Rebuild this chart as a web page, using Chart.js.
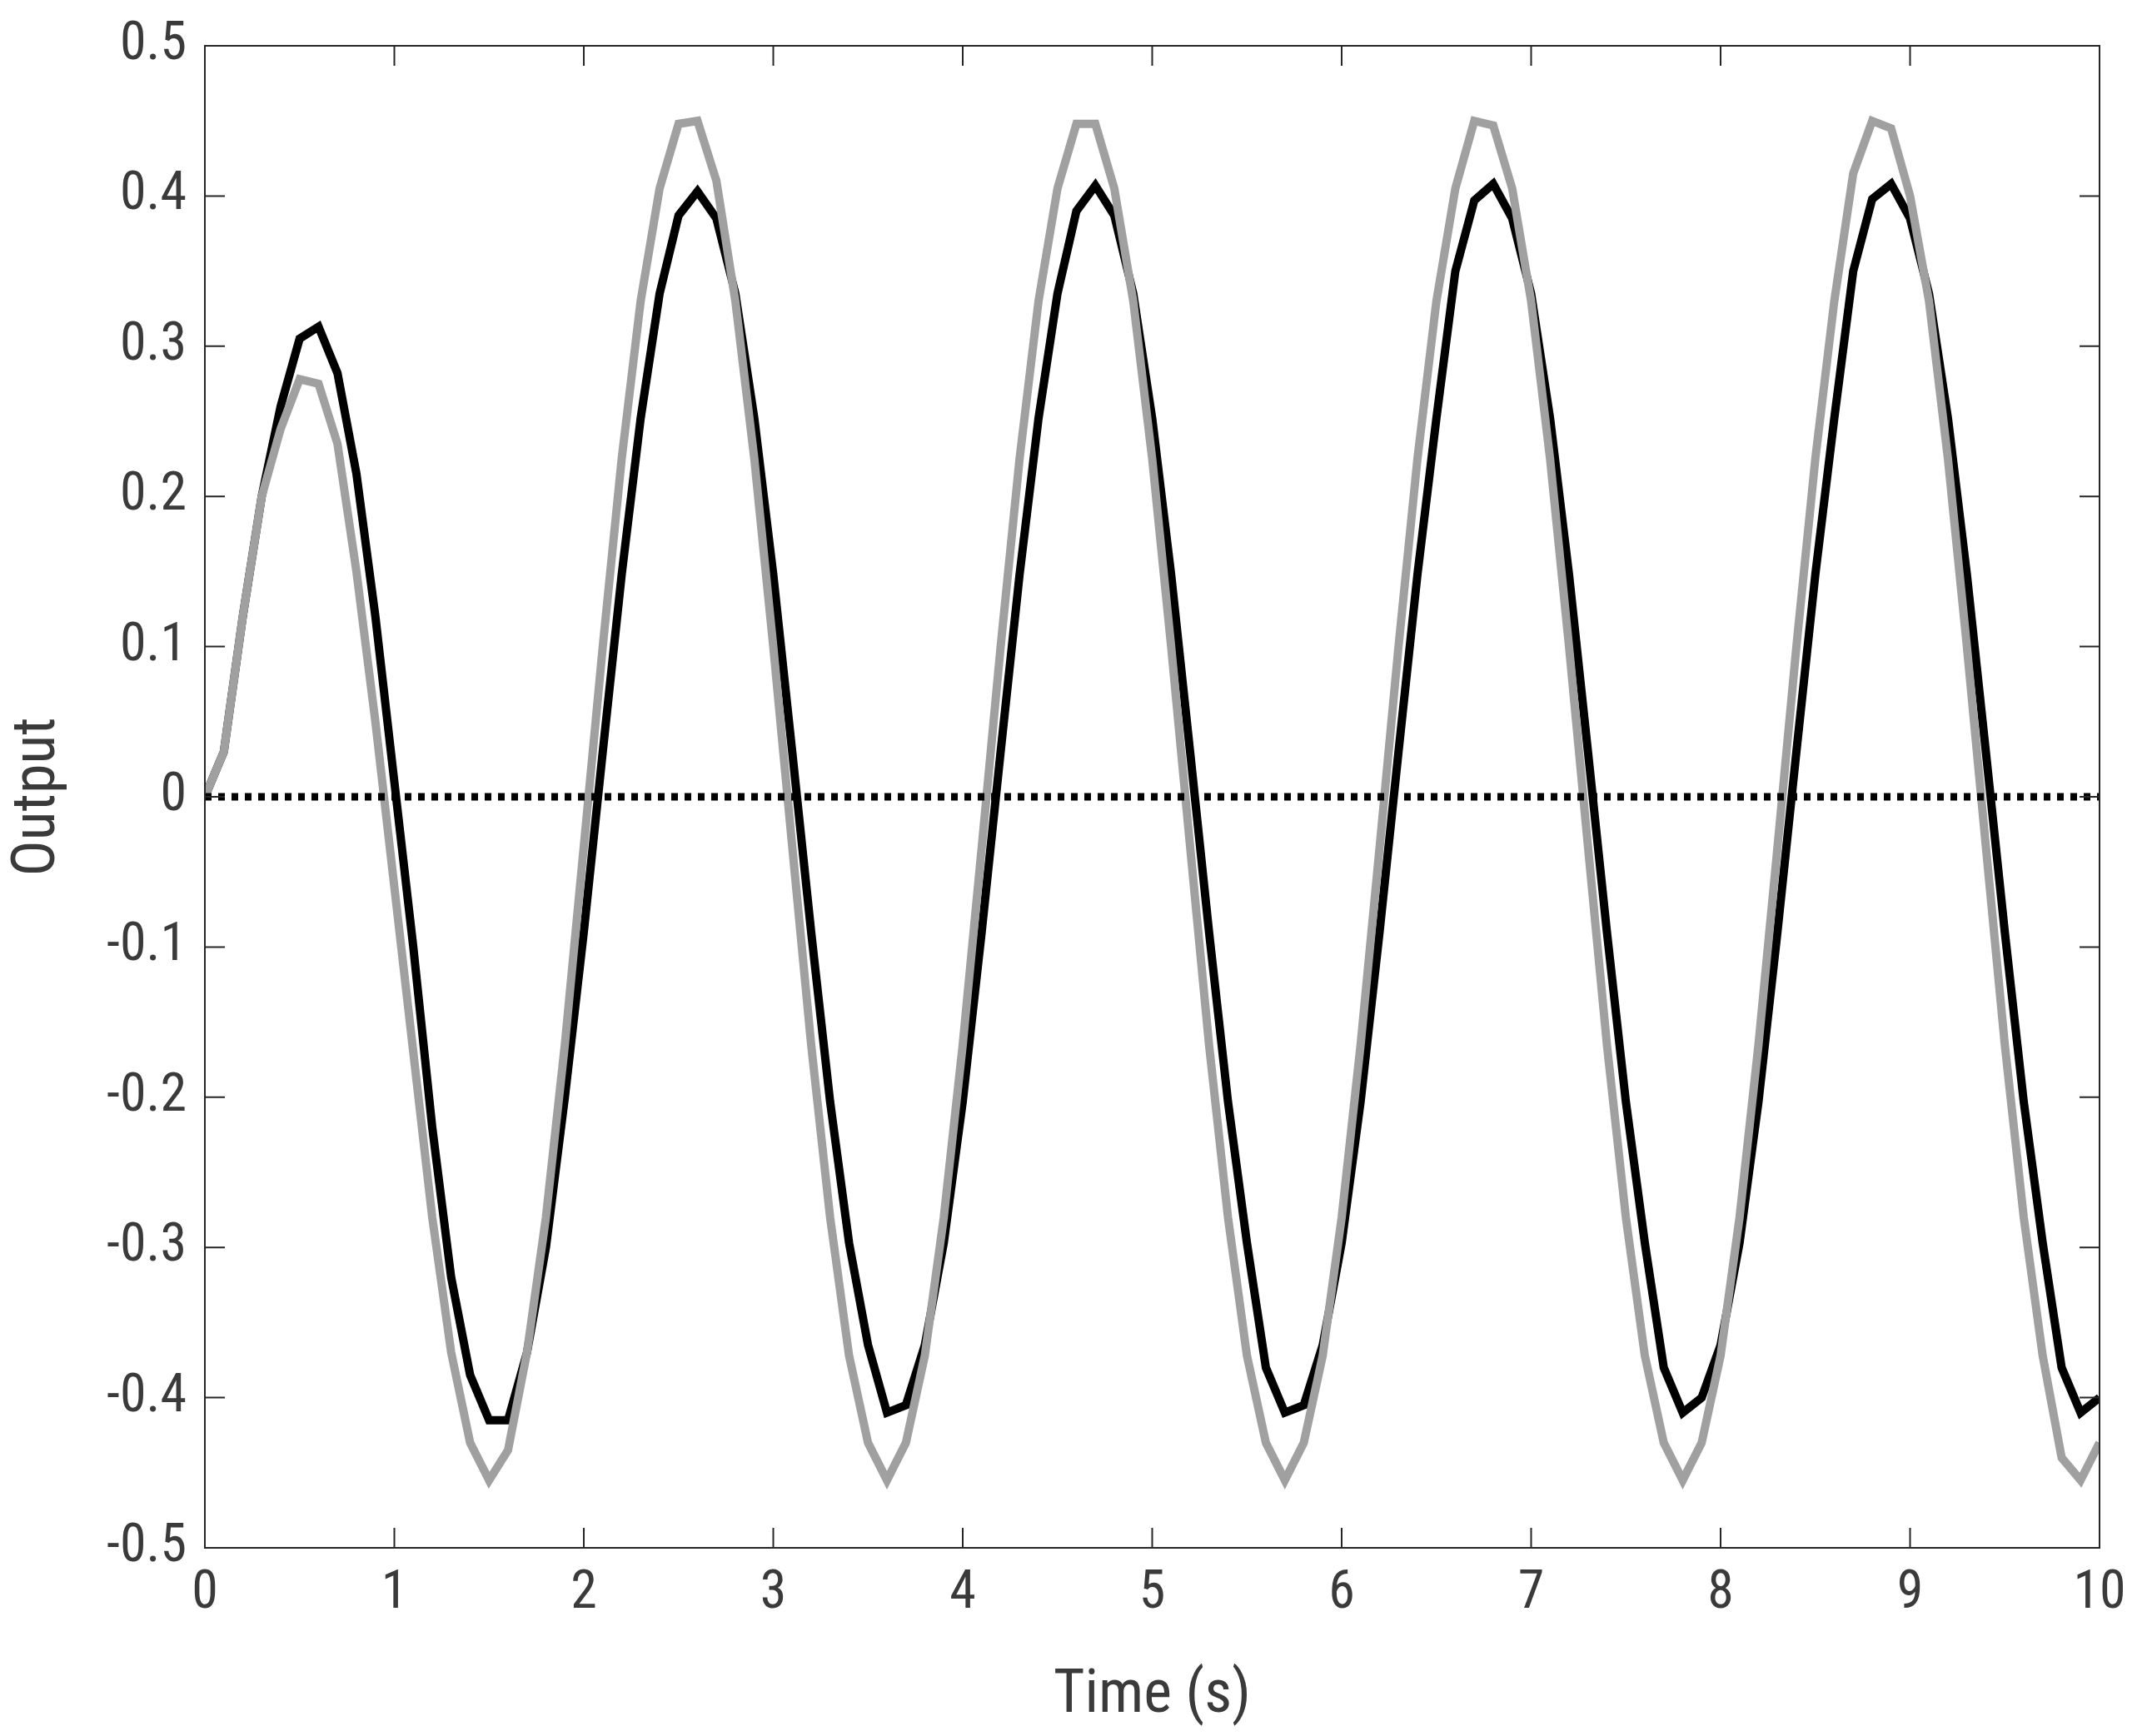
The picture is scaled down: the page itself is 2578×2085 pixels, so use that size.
<!DOCTYPE html>
<html><head><meta charset="utf-8">
<script src="https://cdn.jsdelivr.net/npm/chart.js@4"></script>
<style>html,body{margin:0;padding:0;background:#fff}canvas{display:block}</style>
</head><body>
<div style="width:2578px;height:2085px"><canvas id="c"></canvas></div>
<script>
const times=[0,0.1,0.2,0.3,0.4,0.5,0.6,0.7,0.8,0.9,1,1.1,1.2,1.3,1.4,1.5,1.6,1.7,1.8,1.9,2,2.1,2.2,2.3,2.4,2.5,2.6,2.7,2.8,2.9,3,3.1,3.2,3.3,3.4,3.5,3.6,3.7,3.8,3.9,4,4.1,4.2,4.3,4.4,4.5,4.6,4.7,4.8,4.9,5,5.1,5.2,5.3,5.4,5.5,5.6,5.7,5.8,5.9,6,6.1,6.2,6.3,6.4,6.5,6.6,6.7,6.8,6.9,7,7.1,7.2,7.3,7.4,7.5,7.6,7.7,7.8,7.9,8,8.1,8.2,8.3,8.4,8.5,8.6,8.7,8.8,8.9,9,9.1,9.2,9.3,9.4,9.5,9.6,9.7,9.8,9.9,10];
const grayOut=[0,0.03,0.12,0.2,0.245,0.278,0.275,0.235,0.15,0.05,-0.06,-0.17,-0.28,-0.37,-0.43,-0.455,-0.435,-0.37,-0.28,-0.165,-0.033,0.1,0.225,0.33,0.405,0.448,0.45,0.41,0.33,0.225,0.1,-0.033,-0.165,-0.28,-0.372,-0.43,-0.455,-0.43,-0.372,-0.28,-0.165,-0.034,0.1,0.225,0.33,0.405,0.448,0.448,0.405,0.33,0.225,0.1,-0.033,-0.165,-0.28,-0.372,-0.43,-0.455,-0.43,-0.372,-0.28,-0.165,-0.034,0.1,0.225,0.33,0.405,0.45,0.447,0.405,0.33,0.225,0.1,-0.033,-0.165,-0.28,-0.372,-0.43,-0.455,-0.43,-0.372,-0.28,-0.165,-0.034,0.1,0.225,0.33,0.415,0.45,0.445,0.4,0.33,0.225,0.1,-0.033,-0.165,-0.28,-0.372,-0.44,-0.455,-0.43];
const blackOut=[0,0.03,0.12,0.2,0.26,0.305,0.313,0.282,0.215,0.12,0.01,-0.1,-0.22,-0.32,-0.385,-0.415,-0.415,-0.37,-0.3,-0.2,-0.09,0.03,0.148,0.252,0.335,0.387,0.403,0.385,0.335,0.252,0.148,0.03,-0.09,-0.203,-0.297,-0.365,-0.41,-0.405,-0.365,-0.297,-0.203,-0.09,0.03,0.148,0.252,0.335,0.39,0.407,0.387,0.335,0.252,0.148,0.03,-0.09,-0.203,-0.297,-0.38,-0.41,-0.405,-0.365,-0.297,-0.203,-0.09,0.03,0.148,0.252,0.35,0.397,0.408,0.385,0.335,0.252,0.148,0.03,-0.09,-0.203,-0.297,-0.38,-0.41,-0.4,-0.365,-0.297,-0.203,-0.09,0.03,0.148,0.252,0.35,0.398,0.408,0.385,0.335,0.252,0.148,0.03,-0.09,-0.203,-0.297,-0.38,-0.41,-0.4];
const refLine=[0,0];
const refTimes=[0,10];
const FONT="'Liberation Sans Narrow','Roboto Condensed','Liberation Sans',sans-serif";
const frame={id:'frame',afterDatasetsDraw(ch){const {ctx,chartArea:a,scales}=ch;ctx.save();ctx.strokeStyle='#262626';ctx.lineWidth=2;ctx.strokeRect(a.left,a.top,a.right-a.left,a.bottom-a.top);const L=24;ctx.beginPath();scales.x.ticks.forEach(t=>{const p=scales.x.getPixelForValue(t.value);ctx.moveTo(p,a.bottom);ctx.lineTo(p,a.bottom-L);ctx.moveTo(p,a.top);ctx.lineTo(p,a.top+L);});scales.y.ticks.forEach(t=>{const p=scales.y.getPixelForValue(t.value);ctx.moveTo(a.left,p);ctx.lineTo(a.left+L,p);ctx.moveTo(a.right,p);ctx.lineTo(a.right-L,p);});ctx.stroke();ctx.restore();}};
new Chart(document.getElementById('c'),{type:'line',
data:{datasets:[
{data:refTimes.map((t,i)=>({x:t,y:refLine[i]})),borderColor:'#000',borderWidth:9,borderDash:[8,8],pointRadius:0},
{data:times.map((t,i)=>({x:t,y:grayOut[i]})),borderColor:'#a0a0a0',borderWidth:10,pointRadius:0,tension:0},
{data:times.map((t,i)=>({x:t,y:blackOut[i]})),borderColor:'#000',borderWidth:10,pointRadius:0,tension:0}
]},
options:{responsive:true,maintainAspectRatio:false,animation:false,devicePixelRatio:1,
layout:{padding:{top:55,right:57,left:0,bottom:0}},
plugins:{legend:{display:false},tooltip:{enabled:false}},
scales:{
x:{type:'linear',min:0,max:10,ticks:{stepSize:1,color:'#3a3a3a',font:{family:FONT,size:64},padding:10},grid:{display:false},border:{display:false},
 title:{display:true,text:'Time (s)',color:'#3a3a3a',font:{family:FONT,size:72},padding:{top:0}},
 afterFit(s){s.height=226;}},
y:{min:-0.5,max:0.5,ticks:{stepSize:0.1,color:'#3a3a3a',font:{family:FONT,size:64},padding:14,callback:v=>Math.abs(v)<1e-9?'0':v.toFixed(1)},grid:{display:false},border:{display:false},
 title:{display:true,text:'Output',color:'#3a3a3a',font:{family:FONT,size:72},padding:{bottom:0}},
 afterFit(s){s.width=246;}}
}},plugins:[frame]});
</script></body></html>
